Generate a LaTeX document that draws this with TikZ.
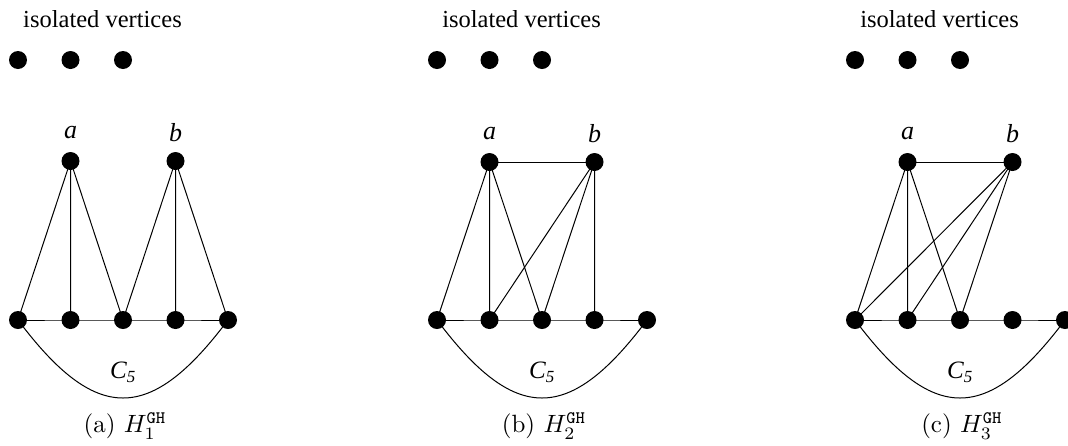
\documentclass[tikz,border=0pt]{standalone}
\usepackage{graphicx}
\usepackage{fontspec}
\newfontfamily\tms{Liberation Serif}
\newcommand\capbox[2]{\scalebox{#1}{#2}}
\begin{document}
\begin{tikzpicture}[x=1pt,y=-1pt,
  vtx/.style={circle,fill=black,inner sep=0pt,minimum size=18pt},
  edge/.style={line width=1pt},
  lbl/.style={font=\tms\fontsize{26}{30}\selectfont\itshape,inner sep=0pt},
  ttl/.style={font=\tms\fontsize{24.5}{30}\selectfont,inner sep=0pt},
  capt/.style={font=\fontsize{10}{12}\selectfont,inner sep=0pt},
  cyc/.style={font=\tms\fontsize{25}{30}\selectfont\itshape,inner sep=0pt}]
\useasboundingbox (0,0) rectangle (1068,445);
% ---------- panel (a) ----------
\begin{scope}[xshift=18pt]
  \node[ttl] (at) at (84.5,19) {isolated vertices};
  \foreach \i/\x in {1/0,2/52.5,3/105} \node[vtx] (ai\i) at (\x,60) {};
  \node[vtx] (aa) at (52.5,161) {};
  \node[vtx] (ab) at (157.5,161) {};
  \node[lbl] (ala) at (52.5,133) {a};
  \node[lbl] (alb) at (157.5,133) {b};
  \foreach \i/\x in {1/0,2/52.5,3/105,4/157.5,5/210} \node[vtx] (av\i) at (\x,320) {};
  \draw[edge] (av1.center) -- (av2.center) -- (av3.center) -- (av4.center) -- (av5.center);
  \draw[edge] (aa.center) -- (av1.center) (aa.center) -- (av2.center) (aa.center) -- (av3.center);
  \draw[edge] (ab.center) -- (av3.center) (ab.center) -- (av4.center) (ab.center) -- (av5.center);
  \draw[edge] (av1.center) .. controls +(78,104) and +(-78,104) .. (av5.center);
  \node[cyc] (ac) at (105,372) {C\textsubscript{\fontsize{17}{20}\selectfont 5}};
  \node[capt] (acap) at (107,426) {\capbox{2.5}{(a) $H_1^{\mathtt{GH}}$}};
\end{scope}
% ---------- panel (b) ----------
\begin{scope}[xshift=437pt]
  \node[ttl] (bt) at (84.5,19) {isolated vertices};
  \foreach \i/\x in {1/0,2/52.5,3/105} \node[vtx] (bi\i) at (\x,60) {};
  \node[vtx] (ba) at (52.5,162) {};
  \node[vtx] (bb) at (157.5,162) {};
  \node[lbl] (bla) at (52.5,134) {a};
  \node[lbl] (blb) at (157.5,134) {b};
  \foreach \i/\x in {1/0,2/52.5,3/105,4/157.5,5/210} \node[vtx] (bv\i) at (\x,320) {};
  \draw[edge] (bv1.center) -- (bv2.center) -- (bv3.center) -- (bv4.center) -- (bv5.center);
  \draw[edge] (ba.center) -- (bb.center);
  \draw[edge] (ba.center) -- (bv1.center) (ba.center) -- (bv2.center) (ba.center) -- (bv3.center);
  \draw[edge] (bb.center) -- (bv2.center) (bb.center) -- (bv3.center) (bb.center) -- (bv4.center);
  \draw[edge] (bv1.center) .. controls +(78,104) and +(-78,104) .. (bv5.center);
  \node[cyc] (bc) at (105,372) {C\textsubscript{\fontsize{17}{20}\selectfont 5}};
  \node[capt] (bcap) at (107,426) {\capbox{2.5}{(b) $H_2^{\mathtt{GH}}$}};
\end{scope}
% ---------- panel (c) ----------
\begin{scope}[xshift=855pt]
  \node[ttl] (ct) at (84.5,19) {isolated vertices};
  \foreach \i/\x in {1/0,2/52.5,3/105} \node[vtx] (ci\i) at (\x,60) {};
  \node[vtx] (ca) at (52.5,162) {};
  \node[vtx] (cb) at (157.5,162) {};
  \node[lbl] (cla) at (52.5,134) {a};
  \node[lbl] (clb) at (157.5,134) {b};
  \foreach \i/\x in {1/0,2/52.5,3/105,4/157.5,5/210} \node[vtx] (cv\i) at (\x,320) {};
  \draw[edge] (cv1.center) -- (cv2.center) -- (cv3.center) -- (cv4.center) -- (cv5.center);
  \draw[edge] (ca.center) -- (cb.center);
  \draw[edge] (ca.center) -- (cv1.center) (ca.center) -- (cv2.center) (ca.center) -- (cv3.center);
  \draw[edge] (cb.center) -- (cv1.center) (cb.center) -- (cv2.center) (cb.center) -- (cv3.center);
  \draw[edge] (cv1.center) .. controls +(78,104) and +(-78,104) .. (cv5.center);
  \node[cyc] (cc) at (105,372) {C\textsubscript{\fontsize{17}{20}\selectfont 5}};
  \node[capt] (ccap) at (107,426) {\capbox{2.5}{(c) $H_3^{\mathtt{GH}}$}};
\end{scope}
\end{tikzpicture}
\end{document}
